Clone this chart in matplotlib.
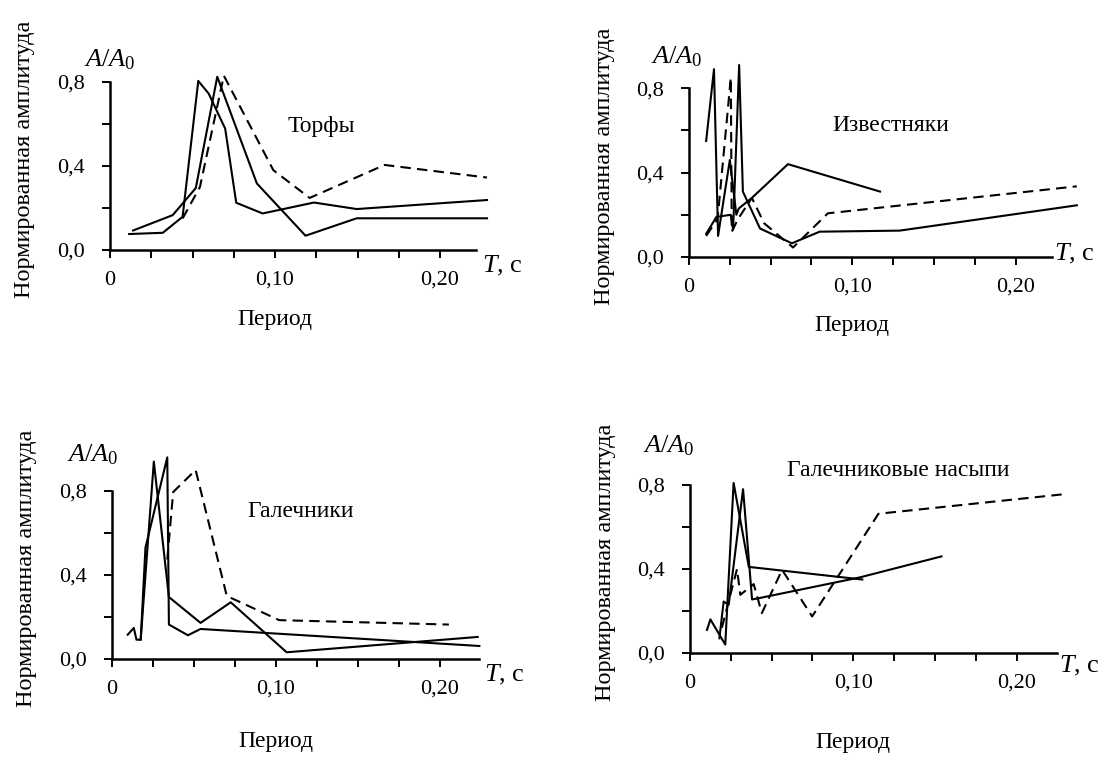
import matplotlib
matplotlib.use("Agg")
import matplotlib.pyplot as plt
from matplotlib.ticker import FixedLocator, FixedFormatter

plt.rcParams["font.family"] = ["Liberation Serif", "DejaVu Serif"]
plt.rcParams["mathtext.fontset"] = "custom"
plt.rcParams["mathtext.rm"] = "Liberation Serif"
plt.rcParams["mathtext.it"] = "Liberation Serif:italic"

# --- data (T in s, A/A0) ---
torf_a_x = [0.0116, 0.0320, 0.0440, 0.0535, 0.0598, 0.0698, 0.0765, 0.0925, 0.1236, 0.1495, 0.2285]
torf_a_y = [0.076, 0.082, 0.158, 0.805, 0.745, 0.578, 0.225, 0.174, 0.226, 0.195, 0.238]
torf_b_x = [0.0140, 0.0380, 0.0520, 0.0650, 0.0890, 0.1185, 0.1495, 0.2285]
torf_b_y = [0.093, 0.166, 0.295, 0.825, 0.317, 0.068, 0.151, 0.151]
torf_c_x = [0.0440, 0.0545, 0.0690, 0.0990, 0.1210, 0.1664, 0.2285]
torf_c_y = [0.150, 0.300, 0.830, 0.380, 0.248, 0.405, 0.345]

izv_a_x = [0.0105, 0.0153, 0.0178, 0.0250, 0.0290, 0.0305, 0.0385, 0.0606, 0.1170]
izv_a_y = [0.55, 0.89, 0.10, 0.46, 0.20, 0.23, 0.28, 0.44, 0.31]
izv_b_x = [0.0105, 0.0168, 0.0255, 0.0270, 0.0307, 0.0330, 0.0435, 0.0630, 0.0800, 0.1290, 0.2375]
izv_b_y = [0.11, 0.19, 0.20, 0.13, 0.91, 0.31, 0.135, 0.065, 0.12, 0.125, 0.245]
izv_c_x = [0.0105, 0.0175, 0.0256, 0.0262, 0.0300, 0.0385, 0.0460, 0.0637, 0.0850, 0.2375]
izv_c_y = [0.10, 0.18, 0.85, 0.12, 0.18, 0.28, 0.16, 0.045, 0.207, 0.335]

gal_a_x = [0.0096, 0.0133, 0.0149, 0.0175, 0.0255, 0.0347, 0.0540, 0.0724, 0.1065, 0.2230]
gal_a_y = [0.116, 0.148, 0.092, 0.092, 0.940, 0.295, 0.172, 0.270, 0.032, 0.105]
gal_b_x = [0.0175, 0.0204, 0.0337, 0.0347, 0.0463, 0.0540, 0.2240]
gal_b_y = [0.092, 0.530, 0.960, 0.164, 0.113, 0.143, 0.062]
gal_c_x = [0.0337, 0.0373, 0.0510, 0.0700, 0.1020, 0.2054]
gal_c_y = [0.474, 0.795, 0.900, 0.300, 0.185, 0.164]

nas_a_x = [0.0104, 0.0125, 0.0216, 0.0267, 0.0360, 0.1055]
nas_a_y = [0.11, 0.16, 0.04, 0.81, 0.41, 0.35]
nas_b_x = [0.0180, 0.0206, 0.0237, 0.0325, 0.0380, 0.0415, 0.1040, 0.1540]
nas_b_y = [0.07, 0.245, 0.230, 0.780, 0.255, 0.260, 0.360, 0.460]
nas_c_x = [0.0195, 0.0288, 0.0308, 0.0390, 0.0440, 0.0564, 0.0748, 0.1154, 0.2300]
nas_c_y = [0.12, 0.40, 0.277, 0.328, 0.19, 0.396, 0.174, 0.663, 0.757]

x_ticks = [0, 0.025, 0.05, 0.075, 0.10, 0.125, 0.15, 0.175, 0.20]
x_labels = ["0", "", "", "", "0,10", "", "", "", "0,20"]
y_ticks = [0, 0.2, 0.4, 0.6, 0.8]
y_labels = ["0,0", "", "0,4", "", "0,8"]

W, H = 1104, 758
FS = 16

# panel: origin px, px per unit x/y, axis end, title and label spots in data units
panels = [
    dict(o=(110, 250), sx=1650, sy=210, xend=0.222, title="Торфы", tpos=(0.128, 0.586),
         series=[(torf_a_x, torf_a_y, "-"), (torf_b_x, torf_b_y, "-"), (torf_c_x, torf_c_y, "--")],
         apos=(0.0, 0.905), tlab=(0.2255, -0.075), per=-0.333),
    dict(o=(689, 257), sx=1633, sy=211, xend=0.222, title="Известняки", tpos=(0.1234, 0.621),
         series=[(izv_a_x, izv_a_y, "-"), (izv_b_x, izv_b_y, "-"), (izv_c_x, izv_c_y, "--")],
         apos=(-0.0075, 0.95), tlab=(0.2235, 0.013), per=-0.327),
    dict(o=(112, 659), sx=1640, sy=210, xend=0.224, title="Галечники", tpos=(0.1152, 0.703),
         series=[(gal_a_x, gal_a_y, "-"), (gal_b_x, gal_b_y, "-"), (gal_c_x, gal_c_y, "--")],
         apos=(-0.012, 0.975), tlab=(0.227, -0.076), per=-0.393),
    dict(o=(690, 653), sx=1633, sy=210, xend=0.2247, title="Галечниковые насыпи", tpos=(0.1275, 0.87),
         series=[(nas_a_x, nas_a_y, "-"), (nas_b_x, nas_b_y, "-"), (nas_c_x, nas_c_y, "--")],
         apos=(-0.013, 0.985), tlab=(0.2258, -0.061), per=-0.424),
]

fig = plt.figure(figsize=(W / 100, H / 100), dpi=100)

for p in panels:
    ox, oy = p["o"]
    xmax, ymax = 0.25, 1.0
    ax = fig.add_axes([ox / W, (H - oy) / H, xmax * p["sx"] / W, ymax * p["sy"] / H])
    ax.set_xlim(0, xmax)
    ax.set_ylim(0, ymax)
    ax.patch.set_visible(False)

    for xs, ys, ls in p["series"]:
        if ls == "--":
            ax.plot(xs, ys, color="black", lw=1.5, ls="--", dashes=(5, 3), clip_on=False)
        else:
            ax.plot(xs, ys, color="black", lw=1.5, clip_on=False)

    for side in ("top", "right"):
        ax.spines[side].set_visible(False)
    ax.spines["left"].set_bounds(0, 0.8)
    ax.spines["bottom"].set_bounds(0, p["xend"])
    ax.spines["left"].set_linewidth(1.8)
    ax.spines["bottom"].set_linewidth(1.8)

    ax.xaxis.set_major_locator(FixedLocator(x_ticks))
    ax.xaxis.set_major_formatter(FixedFormatter(x_labels))
    ax.yaxis.set_major_locator(FixedLocator(y_ticks))
    ax.yaxis.set_major_formatter(FixedFormatter(y_labels))
    ax.tick_params(axis="x", direction="out", length=6, width=1.4, pad=9, labelsize=FS)
    ax.tick_params(axis="y", direction="out", length=6, width=1.4, pad=12, labelsize=FS)

    ax.text(p["tpos"][0], p["tpos"][1], p["title"], fontsize=FS + 1, ha="center", va="center")
    ax.text(p["apos"][0], p["apos"][1], r"$A/A_0$", fontsize=FS + 3, ha="center", va="center")
    ax.text(p["tlab"][0], p["tlab"][1], r"$T$, с", fontsize=FS + 3, ha="left", va="center")
    ax.text(0.10, p["per"], "Период", fontsize=FS + 1, ha="center", va="center")
    ax.text(-0.052, 0.43, "Нормированная амплитуда", fontsize=FS + 1.5, rotation=90,
            ha="center", va="center")

fig.savefig("out.png", dpi=100)
